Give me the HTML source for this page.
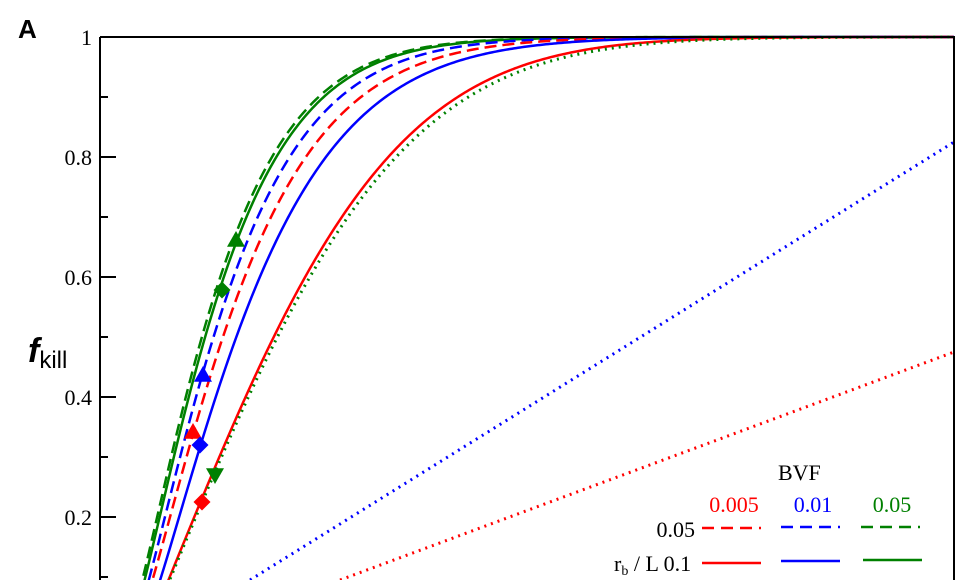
<!DOCTYPE html>
<html><head><meta charset="utf-8"><style>
html,body{margin:0;padding:0;background:#fff;width:972px;height:580px;overflow:hidden;}
svg{display:block;}
</style></head><body>
<svg id="s" width="972" height="580" viewBox="0 0 972 580" xmlns="http://www.w3.org/2000/svg">
<text x="18" y="38" font-family="Liberation Sans, sans-serif" font-weight="bold" font-size="26">A</text>
<g font-family="Liberation Serif, serif" font-size="22" text-anchor="end">
<text x="92" y="45">1</text>
<text x="92" y="165">0.8</text>
<text x="92" y="285">0.6</text>
<text x="92" y="405">0.4</text>
<text x="92" y="525">0.2</text>
</g>
<text x="28" y="362" font-family="Liberation Sans, sans-serif" font-style="italic" font-weight="bold" font-size="34">f<tspan font-size="24" dy="6" font-style="normal" font-weight="normal">kill</tspan></text>
<defs><clipPath id="cp"><rect x="100" y="30" width="854" height="550"/></clipPath></defs>
<g id="curves" fill="none" stroke-width="2.5" clip-path="url(#cp)"></g>
<g stroke="#000" stroke-width="2" fill="none">
<path d="M100,37 H954 V580 M100,37 V580"/>
<path d="M100,157 h16 M100,277 h16 M100,397 h16 M100,517 h16 M100,97 h8 M100,217 h8 M100,337 h8 M100,457 h8 M100,577 h8"/>
</g>
<g id="marks"></g>
<g font-family="Liberation Serif, serif" font-size="22">
<text x="778" y="480">BVF</text>
<text x="734" y="512" fill="#ff0000" text-anchor="middle">0.005</text>
<text x="813" y="512" fill="#0000ff" text-anchor="middle">0.01</text>
<text x="892" y="512" fill="#008000" text-anchor="middle">0.05</text>
<text x="695" y="537" text-anchor="end">0.05</text>
<text x="614" y="571">r<tspan font-size="14" dy="4">b</tspan><tspan dy="-4"> / L  0.1</tspan></text>
</g>
<g stroke-width="2.5">
<path d="M702,528 H761" stroke="#ff0000" stroke-dasharray="12,7"/>
<path d="M781,527 H840" stroke="#0000ff" stroke-dasharray="12,7"/>
<path d="M861,527 H920" stroke="#008000" stroke-dasharray="12,7"/>
<path d="M702,563 H761" stroke="#ff0000"/>
<path d="M781,561 H840" stroke="#0000ff"/>
<path d="M863,560 H922" stroke="#008000"/>
</g>
</svg>
<script>
function gen(x0,fn){var s="";for(var x=x0;x<=954;x+=2){var f=1-Math.exp(-fn(x-x0)),y=637-600*f;if(y>600)continue;s+=(s?" L":"M")+x+","+y.toFixed(2);}return s;}
function wb(x0,c){return gen(x0,function(t){return c*Math.pow(t,1.3);});}
function qd(x0,a,b){return gen(x0,function(t){return a*t+b*t*t;});}
var R="#ff0000",B="#0000ff",G="#008000";
var C=[
[wb(125,0.00245),G,"12,6"],
[wb(127,0.0024),G,""],
[wb(130,0.0022),B,"12,6"],
[wb(132,0.00197),R,"12,6"],
[wb(138,0.00178),B,""],
[qd(145,0.004,1.075e-5),R,""],
[qd(146,0.00399,9.78e-6),G,"2,5"],
["M250,580 L954,142",B,"2,5"],
["M340,580 L954,352",R,"2,5"]
];
var g=document.getElementById("curves"),ns="http://www.w3.org/2000/svg";
C.forEach(function(c){var p=document.createElementNS(ns,"path");p.setAttribute("d",c[0]);p.setAttribute("stroke",c[1]);if(c[2])p.setAttribute("stroke-dasharray",c[2]);if(c[2]=="2,5")p.setAttribute("stroke-width","3");g.appendChild(p);});
var m=document.getElementById("marks");
function tri(x,y,col,up){var s=9,d=up?"M"+x+","+(y-s)+" L"+(x+s)+","+(y+s*0.75)+" L"+(x-s)+","+(y+s*0.75)+"Z":"M"+x+","+(y+s)+" L"+(x+s)+","+(y-s*0.75)+" L"+(x-s)+","+(y-s*0.75)+"Z";add(d,col);}
function dia(x,y,col){var s=8.5;add("M"+x+","+(y-s)+" L"+(x+s)+","+y+" L"+x+","+(y+s)+" L"+(x-s)+","+y+"Z",col);}
function add(d,col){var p=document.createElementNS(ns,"path");p.setAttribute("d",d);p.setAttribute("fill",col);m.appendChild(p);}
tri(236,240,G,1);dia(222,290,G);tri(203,375,B,1);tri(193,432,R,1);dia(200,445,B);tri(215,475,G,0);dia(202,502,R);
</script>
</body></html>
